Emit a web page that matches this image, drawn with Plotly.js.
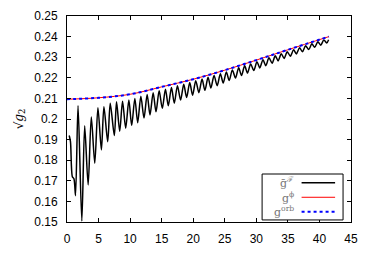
<!DOCTYPE html>
<html>
<head>
<meta charset="utf-8">
<script src="https://cdn.plot.ly/plotly-3.0.1.min.js"></script>
<style>html,body{margin:0;padding:0;background:#fff;}#chart{width:374px;height:263px;}</style>
</head>
<body>
<div id="chart"></div>
<script>
// g-bar^F : oscillating curve, extrema
const gFX = [0.35, 0.55, 0.85, 1.1, 1.35, 1.75, 2.35, 2.8, 3.35, 3.85, 4.4, 4.9, 5.45, 5.85, 6.45, 6.85, 7.5, 7.85,
  8.35, 8.8, 9.3, 9.8, 10.25, 10.75, 11.2, 11.7, 12.2, 12.7, 13.15, 13.65, 14.1, 14.6, 15.1, 15.6, 16.05, 16.55,
  17.0, 17.5, 18.0, 18.5, 18.95, 19.45, 19.9, 20.4, 20.9, 21.4, 21.85, 22.35, 22.8, 23.3, 23.8, 24.3, 24.75, 25.25,
  25.7, 26.2, 26.7, 27.2, 27.65, 28.15, 28.6, 29.1, 29.6, 30.1, 30.55, 31.05, 31.5, 32.0, 32.5, 33.0, 33.45, 33.95,
  34.4, 34.9, 35.4, 35.9, 36.35, 36.85, 37.3, 37.8, 38.3, 38.8, 39.25, 39.75, 40.2, 40.7, 41.15, 41.45];
const gFY = [0.1920, 0.1890, 0.1720, 0.1710, 0.1628, 0.2065, 0.1505, 0.1967, 0.1680, 0.2010, 0.1785, 0.2055, 0.1850, 0.2060, 0.1890, 0.2076, 0.1920, 0.2084,
  0.1940, 0.2086, 0.1955, 0.2092, 0.1968, 0.2100, 0.1982, 0.2110, 0.2005, 0.2119, 0.2020, 0.2128, 0.2035, 0.2137, 0.2052, 0.2145, 0.2064, 0.2153,
  0.2077, 0.2161, 0.2092, 0.2169, 0.2104, 0.2177, 0.2115, 0.2186, 0.2128, 0.2194, 0.2139, 0.2203, 0.2150, 0.2211, 0.2162, 0.2220, 0.2175, 0.2228,
  0.2187, 0.2238, 0.2199, 0.2249, 0.2211, 0.2258, 0.2223, 0.2267, 0.2235, 0.2278, 0.2248, 0.2288, 0.2259, 0.2297, 0.2271, 0.2307, 0.2282, 0.2317,
  0.2294, 0.2326, 0.2305, 0.2336, 0.2316, 0.2346, 0.2326, 0.2355, 0.2337, 0.2365, 0.2348, 0.2375, 0.2358, 0.2384, 0.2369, 0.2385];

// g^phi and g^orb : smooth curves (coincide)
const smoothX = [0, 5, 10, 15, 20, 25, 30, 35, 41.5];
const phiY = [0.2096, 0.2103, 0.2120, 0.2156, 0.2193, 0.2237, 0.2286, 0.2336, 0.2400];
const orbY = [0.2096, 0.2103, 0.2120, 0.2156, 0.2193, 0.2237, 0.2286, 0.2336, 0.2400];

const xTicks = [0, 5, 10, 15, 20, 25, 30, 35, 40, 45];
const yTicks = [0.15, 0.16, 0.17, 0.18, 0.19, 0.2, 0.21, 0.22, 0.23, 0.24, 0.25];
const yTickText = ['0.15', '0.16', '0.17', '0.18', '0.19', '0.2', '0.21', '0.22', '0.23', '0.24', '0.25'];
const legendNames = ['ḡ<sup>ℱ</sup>', 'g<sup>ϕ</sup>', 'g<sup>orb</sup>'];

const traces = [
  {x: gFX, y: gFY, mode: 'lines', line: {color: '#000', width: 1.5, shape: 'spline', smoothing: 0.8}, showlegend: false},
  {x: smoothX, y: phiY, mode: 'lines', line: {color: '#ff0000', width: 1, shape: 'spline'}, showlegend: false},
  {x: smoothX, y: orbY, mode: 'lines', line: {color: '#0000ff', width: 2, dash: '3px,3px', shape: 'spline'}, showlegend: false}
];

const axisBase = {showline: true, linecolor: '#000', linewidth: 1, mirror: 'ticks', ticks: 'inside', ticklen: 4,
  tickcolor: '#000', showgrid: false, zeroline: false, tickfont: {family: 'Liberation Sans, Arial', size: 12, color: '#000'}};

// custom legend (gnuplot style: text left of sample)
const lx0 = 0.687, lx1 = 0.972, ly0 = 0.01, ly1 = 0.233;
const rowsY = [0.19, 0.12, 0.05];
const sampleStyles = [
  {color: '#000', width: 1.5, dash: 'solid'},
  {color: '#ff0000', width: 1, dash: 'solid'},
  {color: '#0000ff', width: 2, dash: '3px,3px'}
];
const shapes = [{type: 'rect', xref: 'paper', yref: 'paper', x0: lx0, x1: lx1, y0: ly0, y1: ly1,
  line: {color: '#000', width: 1}, fillcolor: 'rgba(255,255,255,1)', layer: 'above'}];
const annotations = [];
legendNames.forEach((n, i) => {
  shapes.push({type: 'line', xref: 'paper', yref: 'paper', x0: 0.826, x1: 0.944, y0: rowsY[i], y1: rowsY[i],
    line: sampleStyles[i], layer: 'above'});
  annotations.push({xref: 'paper', yref: 'paper', x: 0.808, y: rowsY[i], xanchor: 'right', yanchor: 'middle',
    text: n, showarrow: false, font: {family: 'DejaVu Serif', size: 11, color: '#777'}});
});

const layout = {
  width: 374, height: 263,
  margin: {l: 67, r: 23, t: 16, b: 41},
  paper_bgcolor: '#fff', plot_bgcolor: '#fff',
  showlegend: false,
  xaxis: Object.assign({}, axisBase, {range: [0, 45], tickvals: xTicks, ticklabelstandoff: 6}),
  yaxis: Object.assign({}, axisBase, {range: [0.15, 0.25], tickvals: yTicks, ticktext: yTickText, ticklabelstandoff: 6,
    title: {text: '√<i>g</i><sub>2</sub>', font: {family: 'DejaVu Serif', size: 12, color: '#000'}, standoff: 8}}),
  shapes: shapes,
  annotations: annotations
};

Plotly.newPlot('chart', traces, layout, {staticPlot: true, displayModeBar: false});
</script>
</body>
</html>
